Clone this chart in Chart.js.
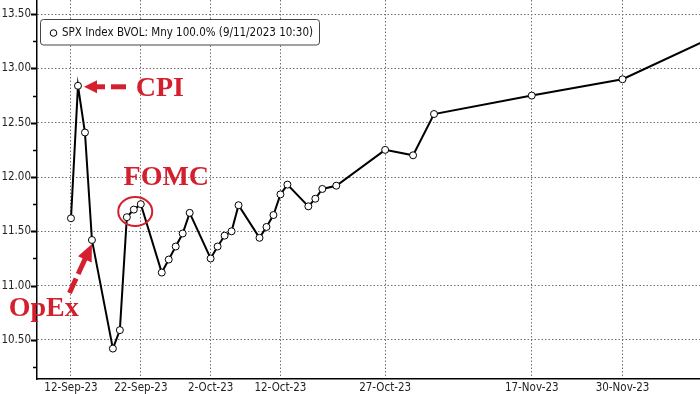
<!DOCTYPE html>
<html><head><meta charset="utf-8">
<script src="https://cdn.jsdelivr.net/npm/chart.js@4.4.0/dist/chart.umd.min.js"></script>
<style>html,body{margin:0;padding:0;background:#fff;}#wrap{width:700px;height:394px;position:relative;}</style>
</head><body><div id="wrap"><canvas id="c" width="700" height="394"></canvas></div>
<script>
// ---- data ----
const expiryDates = ['2023-09-12','2023-09-13','2023-09-14','2023-09-15','2023-09-18','2023-09-19','2023-09-20','2023-09-21','2023-09-22',
  '2023-09-25','2023-09-26','2023-09-27','2023-09-28','2023-09-29','2023-10-02','2023-10-03','2023-10-04','2023-10-05','2023-10-06',
  '2023-10-09','2023-10-10','2023-10-11','2023-10-12','2023-10-13','2023-10-16','2023-10-17','2023-10-18','2023-10-20',
  '2023-10-27','2023-10-31','2023-11-03','2023-11-17','2023-11-30','2023-12-15'];
const bvolValues = [11.62,12.84,12.41,11.42,10.42,10.59,11.63,11.70,11.75,
  11.12,11.24,11.36,11.48,11.67,11.25,11.36,11.46,11.50,11.74,
  11.44,11.54,11.65,11.84,11.93,11.73,11.80,11.89,11.92,
  12.25,12.20,12.58,12.75,12.90,13.35];
const xTickDates = ['2023-09-12','2023-09-22','2023-10-02','2023-10-12','2023-10-27','2023-11-17','2023-11-30'];
const xTickLabels = ['12-Sep-23','22-Sep-23','2-Oct-23','12-Oct-23','27-Oct-23','17-Nov-23','30-Nov-23'];
const yTickValues = [10.25,10.5,10.75,11,11.25,11.5,11.75,12,12.25,12.5,12.75,13,13.25,13.5];
const yLabelValues = [10.5,11,11.5,12,12.5,13,13.5];
const seriesLabel = 'SPX Index BVOL: Mny 100.0% (9/11/2023 10:30)';
const annotationTexts = ['CPI','FOMC','OpEx'];
const annotationIdx = [1,7,3];

// ---- helpers ----
const dayNum = d => Date.parse(d + 'T00:00:00Z') / 86400000;
const isMajor = v => yLabelValues.some(m => Math.abs(m - v) < 1e-6);
const FONT = "'DejaVu Sans Condensed','DejaVu Sans',sans-serif";
const RED = '#d4202e';

const decorPlugin = {
  id: 'decor',
  afterDraw(chart) {
    const ctx = chart.ctx;
    const y = chart.scales.y;
    const area = chart.chartArea;
    // y tick marks
    ctx.save();
    ctx.strokeStyle = '#000';
    yTickValues.forEach(v => {
      const py = Math.round(y.getPixelForValue(v)) + 0.5;
      ctx.lineWidth = isMajor(v) ? 2 : 1.5;
      ctx.beginPath();
      ctx.moveTo(area.left - (isMajor(v) ? 6 : 4), py);
      ctx.lineTo(area.left, py);
      ctx.stroke();
    });
    ctx.restore();

    // legend box
    ctx.save();
    const bx = 40.5, by = 19.5, bw = 279, bh = 25.5, r = 3;
    ctx.beginPath();
    ctx.moveTo(bx + r, by); ctx.lineTo(bx + bw - r, by); ctx.quadraticCurveTo(bx + bw, by, bx + bw, by + r);
    ctx.lineTo(bx + bw, by + bh - r); ctx.quadraticCurveTo(bx + bw, by + bh, bx + bw - r, by + bh);
    ctx.lineTo(bx + r, by + bh); ctx.quadraticCurveTo(bx, by + bh, bx, by + bh - r);
    ctx.lineTo(bx, by + r); ctx.quadraticCurveTo(bx, by, bx + r, by);
    ctx.closePath();
    ctx.fillStyle = '#fff'; ctx.fill();
    ctx.strokeStyle = '#444'; ctx.lineWidth = 1; ctx.stroke();
    ctx.beginPath(); ctx.arc(53.5, 33, 3.3, 0, Math.PI * 2);
    ctx.fillStyle = '#fff'; ctx.fill(); ctx.strokeStyle = '#000'; ctx.lineWidth = 1; ctx.stroke();
    ctx.fillStyle = '#111'; ctx.font = '11.5px ' + FONT; ctx.textBaseline = 'middle'; ctx.textAlign = 'left';
    ctx.fillText(seriesLabel, 62, 33.5);
    ctx.restore();

    // annotations
    const pts = chart.getDatasetMeta(0).data;
    const cpi = pts[annotationIdx[0]], fomc = pts[annotationIdx[1]], opex = pts[annotationIdx[2]];
    ctx.save();
    ctx.fillStyle = RED; ctx.strokeStyle = RED;
    ctx.font = "bold 28px 'Liberation Serif','Times New Roman',serif";
    ctx.textBaseline = 'alphabetic'; ctx.textAlign = 'left';
    // CPI
    ctx.fillText(annotationTexts[0], cpi.x + 57.7, cpi.y + 10.5);
    const tx = cpi.x + 6, ty = cpi.y + 1;
    ctx.beginPath(); ctx.moveTo(tx, ty); ctx.lineTo(tx + 13, ty - 6.5); ctx.lineTo(tx + 13, ty + 6.5); ctx.closePath(); ctx.fill();
    ctx.lineWidth = 5; ctx.lineCap = 'butt';
    ctx.beginPath(); ctx.moveTo(tx + 12, ty); ctx.lineTo(tx + 21, ty); ctx.stroke();
    ctx.beginPath(); ctx.moveTo(tx + 27, ty); ctx.lineTo(tx + 42, ty); ctx.stroke();
    // FOMC
    ctx.fillText(annotationTexts[1], fomc.x - 10.3, fomc.y - 25);
    ctx.lineWidth = 2;
    ctx.beginPath(); ctx.ellipse(fomc.x + 1.4, fomc.y + 2, 17, 14.5, 0, 0, Math.PI * 2); ctx.stroke();
    // OpEx
    ctx.fillText(annotationTexts[2], opex.x - 83.3, opex.y + 76);
    const ox = opex.x, oy = opex.y + 4;
    const sx = opex.x - 22.5, sy = opex.y + 53;
    const dx = sx - ox, dy = sy - oy, L = Math.hypot(dx, dy), ux = dx / L, uy = dy / L;
    const hl = 17, hw = 7.5;
    ctx.beginPath();
    ctx.moveTo(ox, oy);
    ctx.lineTo(ox + ux * hl - uy * hw, oy + uy * hl + ux * hw);
    ctx.lineTo(ox + ux * hl + uy * hw, oy + uy * hl - ux * hw);
    ctx.closePath(); ctx.fill();
    ctx.lineWidth = 5;
    [[16, 33], [38, L]].forEach(([a, b]) => {
      ctx.beginPath(); ctx.moveTo(ox + ux * a, oy + uy * a); ctx.lineTo(ox + ux * b, oy + uy * b); ctx.stroke();
    });
    ctx.restore();
  }
};

const x0 = dayNum(xTickDates[0]);
new Chart(document.getElementById('c'), {
  type: 'line',
  data: {
    datasets: [{
      label: seriesLabel,
      data: expiryDates.map((d, i) => ({ x: dayNum(d), y: bvolValues[i] })),
      borderColor: '#000', borderWidth: 2,
      pointRadius: 3.5, pointBackgroundColor: '#fff', pointBorderColor: '#000', pointBorderWidth: 1,
      tension: 0
    }]
  },
  options: {
    responsive: false, animation: false, devicePixelRatio: 1,
    layout: { padding: 0, autoPadding: false },
    plugins: { legend: { display: false }, tooltip: { enabled: false } },
    scales: {
      x: {
        type: 'linear', min: x0 - 4.87, max: x0 + 90.1,
        afterBuildTicks: s => { s.ticks = xTickDates.map(d => ({ value: dayNum(d) })); },
        afterFit: s => { s.height = 15; s.paddingLeft = 0; s.paddingRight = 0; },
        ticks: { callback: (v, i) => xTickLabels[i], autoSkip: false, maxRotation: 0, padding: 2, color: '#222', font: { family: FONT, size: 11.5 } },
        grid: { color: '#707070', lineWidth: 1, drawTicks: false },
        border: { display: true, color: '#000', width: 1.5, dash: [1.5, 2] }
      },
      y: {
        min: 10.14, max: 13.63,
        afterBuildTicks: s => { s.ticks = yTickValues.map(v => ({ value: v })); },
        afterFit: s => { s.width = 37; s.paddingTop = 0; s.paddingBottom = 0; },
        ticks: { callback: v => isMajor(v) ? v.toFixed(2) : '', autoSkip: false, padding: 6, color: '#222', font: { family: FONT, size: 11.5 } },
        grid: { color: c => (c.tick && isMajor(c.tick.value)) ? '#707070' : 'rgba(0,0,0,0)', lineWidth: 1, drawTicks: false },
        border: { display: true, color: '#000', width: 1.5, dash: [1.5, 2] }
      }
    }
  },
  plugins: [decorPlugin]
});
</script></body></html>
